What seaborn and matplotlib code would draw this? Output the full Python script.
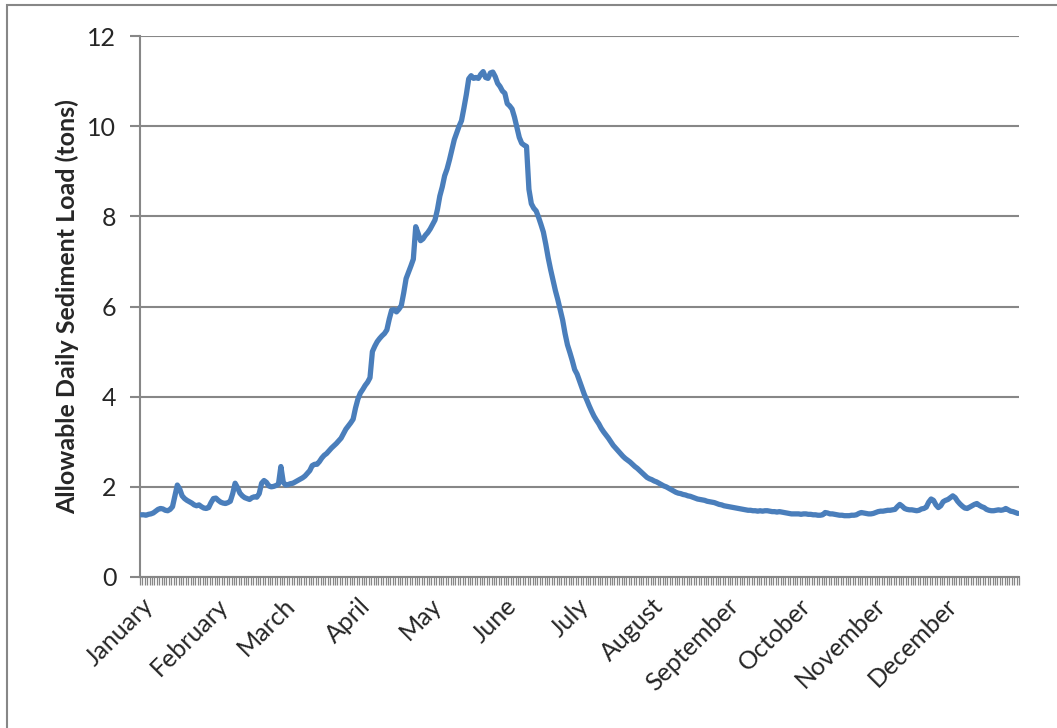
import matplotlib
matplotlib.use('Agg')
import matplotlib.pyplot as plt
import matplotlib.patches as patches
import numpy as np
import pandas as pd
import seaborn as sns

# Daily values, one list per month
jan = [1.38, 1.38, 1.37, 1.39, 1.40, 1.42, 1.46, 1.50, 1.52, 1.51, 1.48, 1.47, 1.50, 1.56, 1.80, 2.04,
       1.95, 1.80, 1.74, 1.70, 1.67, 1.64, 1.60, 1.58, 1.60, 1.56, 1.53, 1.52, 1.54, 1.65, 1.74]
feb = [1.75, 1.70, 1.66, 1.64, 1.63, 1.65, 1.68, 1.85, 2.08, 1.98, 1.86, 1.80, 1.76, 1.74, 1.72, 1.76,
       1.78, 1.77, 1.85, 2.08, 2.14, 2.10, 2.02, 2.00, 2.01, 2.03, 2.06, 2.45]
mar = [2.10, 2.04, 2.05, 2.07, 2.08, 2.11, 2.14, 2.17, 2.20, 2.24, 2.30, 2.36, 2.47, 2.50, 2.50, 2.56,
       2.64, 2.70, 2.74, 2.80, 2.86, 2.91, 2.96, 3.02, 3.08, 3.18, 3.28, 3.35, 3.42, 3.50, 3.75]
apr = [3.95, 4.08, 4.16, 4.25, 4.32, 4.42, 5.00, 5.12, 5.22, 5.29, 5.35, 5.40, 5.48, 5.72, 5.92, 5.93,
       5.88, 5.94, 6.02, 6.30, 6.62, 6.76, 6.90, 7.05, 7.77, 7.62, 7.46, 7.50, 7.58, 7.64]
may = [7.72, 7.82, 7.92, 8.15, 8.45, 8.65, 8.90, 9.05, 9.25, 9.48, 9.70, 9.85, 10.00, 10.12, 10.40, 10.70,
       11.05, 11.12, 11.06, 11.08, 11.06, 11.15, 11.21, 11.08, 11.06, 11.18, 11.20, 11.10, 10.95, 10.88, 10.78]
jun = [10.73, 10.50, 10.45, 10.38, 10.20, 9.98, 9.75, 9.62, 9.58, 9.55, 8.60, 8.28, 8.18, 8.12, 7.98, 7.82,
       7.65, 7.38, 7.08, 6.82, 6.58, 6.35, 6.15, 5.92, 5.70, 5.40, 5.15, 4.98, 4.80, 4.60]
jul = [4.50, 4.35, 4.20, 4.05, 3.93, 3.80, 3.68, 3.57, 3.48, 3.40, 3.30, 3.22, 3.15, 3.08, 3.00, 2.92,
       2.86, 2.80, 2.74, 2.68, 2.63, 2.59, 2.55, 2.50, 2.45, 2.41, 2.36, 2.31, 2.26, 2.21, 2.18]
aug = [2.16, 2.13, 2.11, 2.08, 2.05, 2.02, 2.00, 1.97, 1.94, 1.91, 1.88, 1.86, 1.85, 1.83, 1.82, 1.80,
       1.79, 1.77, 1.75, 1.73, 1.72, 1.71, 1.70, 1.68, 1.67, 1.66, 1.65, 1.63, 1.61, 1.60, 1.58]
sep = [1.57, 1.56, 1.55, 1.54, 1.53, 1.52, 1.51, 1.50, 1.49, 1.48, 1.48, 1.47, 1.47, 1.46, 1.47, 1.46,
       1.47, 1.47, 1.46, 1.45, 1.45, 1.44, 1.45, 1.44, 1.43, 1.42, 1.41, 1.40, 1.40, 1.40]
oct_ = [1.40, 1.39, 1.40, 1.40, 1.39, 1.39, 1.38, 1.38, 1.37, 1.37, 1.38, 1.43, 1.42, 1.40, 1.40, 1.39,
        1.38, 1.37, 1.37, 1.36, 1.36, 1.36, 1.37, 1.37, 1.38, 1.41, 1.43, 1.42, 1.41, 1.40, 1.40]
nov = [1.41, 1.43, 1.45, 1.46, 1.46, 1.47, 1.48, 1.48, 1.49, 1.50, 1.56, 1.61, 1.57, 1.52, 1.50, 1.49,
       1.49, 1.48, 1.47, 1.48, 1.51, 1.52, 1.55, 1.66, 1.73, 1.70, 1.60, 1.54, 1.58, 1.67]
dec = [1.70, 1.72, 1.76, 1.80, 1.76, 1.68, 1.62, 1.57, 1.53, 1.52, 1.55, 1.58, 1.61, 1.63, 1.59, 1.56,
       1.54, 1.50, 1.48, 1.47, 1.47, 1.48, 1.49, 1.48, 1.49, 1.52, 1.49, 1.46, 1.45, 1.43, 1.41]

month_names = ['January', 'February', 'March', 'April', 'May', 'June', 'July',
               'August', 'September', 'October', 'November', 'December']
monthly = [jan, feb, mar, apr, may, jun, jul, aug, sep, oct_, nov, dec]

load = [v for m in monthly for v in m]
df = pd.DataFrame({'day': np.arange(len(load)), 'load': load})
month_start = np.cumsum([0] + [len(m) for m in monthly[:-1]])

sns.set_style('white')
plt.rcParams['font.family'] = ['Lato', 'DejaVu Sans']

fig = plt.figure(figsize=(10.57, 7.28), dpi=100)
ax = fig.add_axes([140 / 1057, 1 - 577 / 728, 879 / 1057, 541 / 728])

grey = '#878787'
sns.lineplot(data=df, x='day', y='load', ax=ax, color='#4a7ebb', linewidth=3.8, zorder=3)

ax.set_xlim(-0.5, len(load) - 0.5)
ax.set_ylim(0, 12)
ax.set_yticks(np.arange(0, 13, 2))
ax.yaxis.grid(True, color=grey, linewidth=1.5)
ax.set_axisbelow(True)

# month labels at the first day of each month, one tick mark per day
ax.set_xticks(month_start)
ax.set_xticklabels(month_names, rotation=45, ha='right', rotation_mode='anchor', fontsize=18)
ax.tick_params(axis='x', which='major', length=0, pad=12, bottom=True)
ax.set_xticks(np.arange(-0.5, len(load), 1), minor=True)
ax.tick_params(axis='x', which='minor', length=6, width=0.9, color=grey, direction='out', bottom=True)
ax.tick_params(axis='y', length=7, width=1.5, color=grey, labelsize=18, pad=10, left=True)

for s in ['top', 'right']:
    ax.spines[s].set_visible(False)
for s in ['left', 'bottom']:
    ax.spines[s].set_color(grey)
    ax.spines[s].set_linewidth(1.5)

ax.set_xlabel('')
ax.set_ylabel('Allowable Daily Sediment Load (tons)', fontsize=18, fontweight='bold', labelpad=6)

# chart area border
fig.patches.append(patches.Rectangle((7 / 1057, -0.1), 1.2, 1.1 - 5 / 728, transform=fig.transFigure,
                                     fill=False, edgecolor=grey, linewidth=1.5))

fig.savefig('out.png', dpi=100)
